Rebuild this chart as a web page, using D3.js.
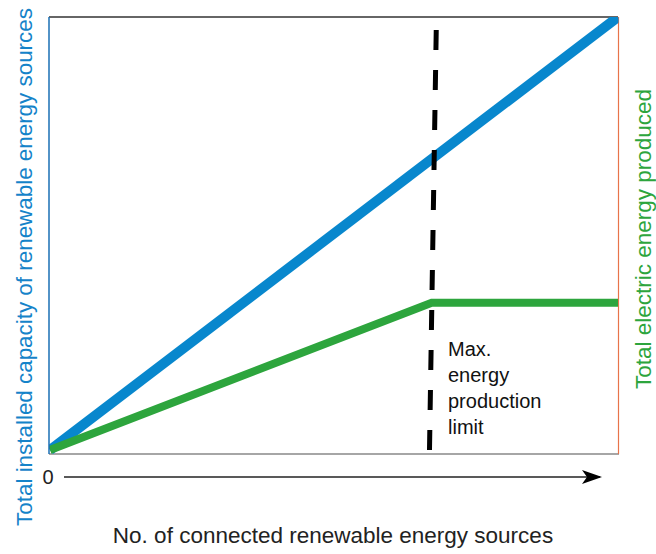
<!DOCTYPE html>
<html>
<head>
<meta charset="utf-8">
<script src="https://cdn.jsdelivr.net/npm/d3@7"></script>
<style>
  html, body { margin: 0; padding: 0; background: #fff; }
  text { font-family: "Liberation Sans", Arial, sans-serif; }
</style>
</head>
<body>
<svg id="chart" width="656" height="554"></svg>
<script>
// Conceptual chart: installed capacity vs. energy produced
const sources   = [0, 10];          // connected sources (relative units)
const capacity  = [0, 10];          // installed capacity grows linearly
const producedX = [0, 6.72, 10];    // produced energy breakpoints
const producedY = [0, 3.4, 3.4];    // capped at the production limit
const limitX    = [6.80, 6.68];     // limit marker (top, bottom)
const limitY    = [9.7, -0.1];
const limitText = ["Max.", "energy", "production", "limit"];
const originLabel = "0";

const svg = d3.select("#chart");
const x = d3.scaleLinear().domain([0, 10]).range([50, 618]);
const y = d3.scaleLinear().domain([0, 10]).range([450, 17]);

// Clip region for the plotted curves
svg.append("defs").append("clipPath").attr("id", "plot")
  .append("rect").attr("x", 49).attr("y", 17).attr("width", 569.5).attr("height", 437);

// Plot frame
svg.append("line").attr("x1", 49).attr("x2", 618).attr("y1", 17).attr("y2", 17)
  .attr("stroke", "#333").attr("stroke-width", 1.5);
svg.append("line").attr("x1", 49).attr("x2", 619).attr("y1", 454).attr("y2", 454)
  .attr("stroke", "#888").attr("stroke-width", 1.5);
svg.append("line").attr("x1", 618.5).attr("x2", 618.5).attr("y1", 17).attr("y2", 454)
  .attr("stroke", "#e8734a").attr("stroke-width", 1.2);

const line = d3.line().x(d => x(d[0])).y(d => y(d[1]));

// Installed capacity (blue)
svg.append("path")
  .datum(sources.map((s, i) => [s, capacity[i]]))
  .attr("d", line).attr("clip-path", "url(#plot)")
  .attr("fill", "none").attr("stroke", "#0887cd").attr("stroke-width", 10);

// Energy produced (green)
svg.append("path")
  .datum(producedX.map((s, i) => [s, producedY[i]]))
  .attr("d", line).attr("clip-path", "url(#plot)")
  .attr("fill", "none").attr("stroke", "#2da53d").attr("stroke-width", 8)
  .attr("stroke-linejoin", "miter");

// Production limit (dashed)
svg.append("path")
  .datum(limitX.map((s, i) => [s, limitY[i]]))
  .attr("d", line)
  .attr("fill", "none").attr("stroke", "#000").attr("stroke-width", 5)
  .attr("stroke-dasharray", "20,20");

// Left frame edge drawn over the curves
svg.append("line").attr("x1", 49).attr("x2", 49).attr("y1", 17).attr("y2", 454)
  .attr("stroke", "#1a6fb5").attr("stroke-width", 1.5);

// Limit annotation
const ann = svg.append("text").attr("x", 448).attr("y", 356)
  .attr("font-size", 20).attr("fill", "#111");
limitText.forEach((t, i) => ann.append("tspan").attr("x", 448).attr("dy", i ? 26 : 0).text(t));

// Horizontal arrow axis
svg.select("defs").append("marker")
  .attr("id", "arrow").attr("markerUnits", "userSpaceOnUse")
  .attr("viewBox", "0 0 20 14").attr("refX", 18).attr("refY", 7)
  .attr("markerWidth", 20).attr("markerHeight", 14).attr("orient", "auto")
  .append("path").attr("d", "M0,0 L20,7 L0,14 L5,7 Z").attr("fill", "#000");
svg.append("line").attr("x1", 64).attr("x2", 600).attr("y1", 477).attr("y2", 477)
  .attr("stroke", "#222").attr("stroke-width", 1.5).attr("marker-end", "url(#arrow)");

svg.append("text").attr("x", 48).attr("y", 484).attr("text-anchor", "middle")
  .attr("font-size", 20).attr("fill", "#222").text(originLabel);

// Axis titles
svg.append("text").attr("x", 333).attr("y", 543).attr("text-anchor", "middle")
  .attr("font-size", 22.5).attr("fill", "#222").text("No. of connected renewable energy sources");
svg.append("text").attr("transform", "translate(32,267) rotate(-90)").attr("text-anchor", "middle")
  .attr("font-size", 22.4).attr("fill", "#1583c9").text("Total installed capacity of renewable energy sources");
svg.append("text").attr("transform", "translate(651,239) rotate(-90)").attr("text-anchor", "middle")
  .attr("font-size", 22.5).attr("fill", "#2da53d").text("Total electric energy produced");
</script>
</body>
</html>
